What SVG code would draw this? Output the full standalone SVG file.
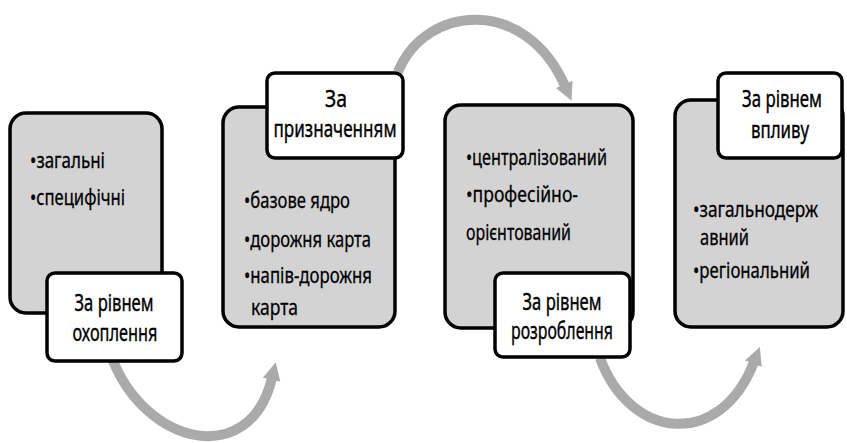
<svg xmlns="http://www.w3.org/2000/svg" width="847" height="443" viewBox="0 0 847 443">
<style>
.box{fill:#d3d3d3;stroke:#000;stroke-width:3.5}
.lab{fill:#fff;stroke:#000;stroke-width:3.5}
.t{font-family:"Noto Sans","Liberation Sans",sans-serif;font-size:22px;fill:#000;stroke:#000;stroke-width:0.3}
.h{font-family:"Noto Sans","Liberation Sans",sans-serif;font-size:24px;fill:#000;stroke:#000;stroke-width:0.4;text-anchor:middle}
.arr{fill:none;stroke:#aaaaaa;stroke-width:10}
</style>
<defs>
<marker id="ah" viewBox="0 0 10 10" refX="1" refY="5" markerWidth="18" markerHeight="24" markerUnits="userSpaceOnUse" orient="auto">
<path d="M0,0 L10,5 L0,10 z" fill="#aaaaaa"/>
</marker>
</defs>
<g id="connectors">
<path class="arr" d="M112,358 C145,445 250,470 272,378" marker-end="url(#ah)"/>
<path class="arr" d="M398,72 C425,5 525,-5 565,86" marker-end="url(#ah)"/>
<path class="arr" d="M600,358 C630,440 720,450 754,362" marker-end="url(#ah)"/>
</g>
<g id="node1">
<rect class="box" x="10" y="113" width="152" height="200" rx="16"/>
<text class="t" x="30" y="168" textLength="75" lengthAdjust="spacingAndGlyphs">•загальні</text>
<text class="t" x="30" y="205" textLength="95" lengthAdjust="spacingAndGlyphs">•специфічні</text>
<rect class="lab" x="47" y="273" width="135" height="88" rx="8"/>
<text class="h" x="114" y="311" textLength="79" lengthAdjust="spacingAndGlyphs">За рівнем</text>
<text class="h" x="115" y="341" textLength="85" lengthAdjust="spacingAndGlyphs">охоплення</text>
</g>
<g id="node2">
<rect class="box" x="223" y="107" width="172" height="220" rx="16"/>
<text class="t" x="244" y="208" textLength="106" lengthAdjust="spacingAndGlyphs">•базове ядро</text>
<text class="t" x="244" y="247" textLength="127" lengthAdjust="spacingAndGlyphs">•дорожня карта</text>
<text class="t" x="244" y="283" textLength="128" lengthAdjust="spacingAndGlyphs">•напів-дорожня</text>
<text class="t" x="251" y="315" textLength="47" lengthAdjust="spacingAndGlyphs">карта</text>
<rect class="lab" x="267" y="73" width="136" height="85" rx="8"/>
<text class="h" x="336" y="107" textLength="22" lengthAdjust="spacingAndGlyphs">За</text>
<text class="h" x="335" y="137" textLength="123" lengthAdjust="spacingAndGlyphs">призначенням</text>
</g>
<g id="node3">
<rect class="box" x="445" y="105" width="188" height="223" rx="16"/>
<text class="t" x="466" y="165" textLength="141" lengthAdjust="spacingAndGlyphs">•централізований</text>
<text class="t" x="466" y="202" textLength="112" lengthAdjust="spacingAndGlyphs">•професійно-</text>
<text class="t" x="466" y="240" textLength="105" lengthAdjust="spacingAndGlyphs">орієнтований</text>
<rect class="lab" x="495" y="273" width="135" height="84" rx="8"/>
<text class="h" x="562" y="310" textLength="79" lengthAdjust="spacingAndGlyphs">За рівнем</text>
<text class="h" x="562" y="339" textLength="102" lengthAdjust="spacingAndGlyphs">розроблення</text>
</g>
<g id="node4">
<rect class="box" x="675" y="100" width="168" height="227" rx="16"/>
<text class="t" x="693" y="217" textLength="125" lengthAdjust="spacingAndGlyphs">•загальнодерж</text>
<text class="t" x="700" y="245" textLength="49" lengthAdjust="spacingAndGlyphs">авний</text>
<text class="t" x="693" y="278" textLength="117" lengthAdjust="spacingAndGlyphs">•регіональний</text>
<rect class="lab" x="718" y="73" width="124" height="85" rx="8"/>
<text class="h" x="782" y="107" textLength="80" lengthAdjust="spacingAndGlyphs">За рівнем</text>
<text class="h" x="780" y="138" textLength="58" lengthAdjust="spacingAndGlyphs">впливу</text>
</g>
</svg>
